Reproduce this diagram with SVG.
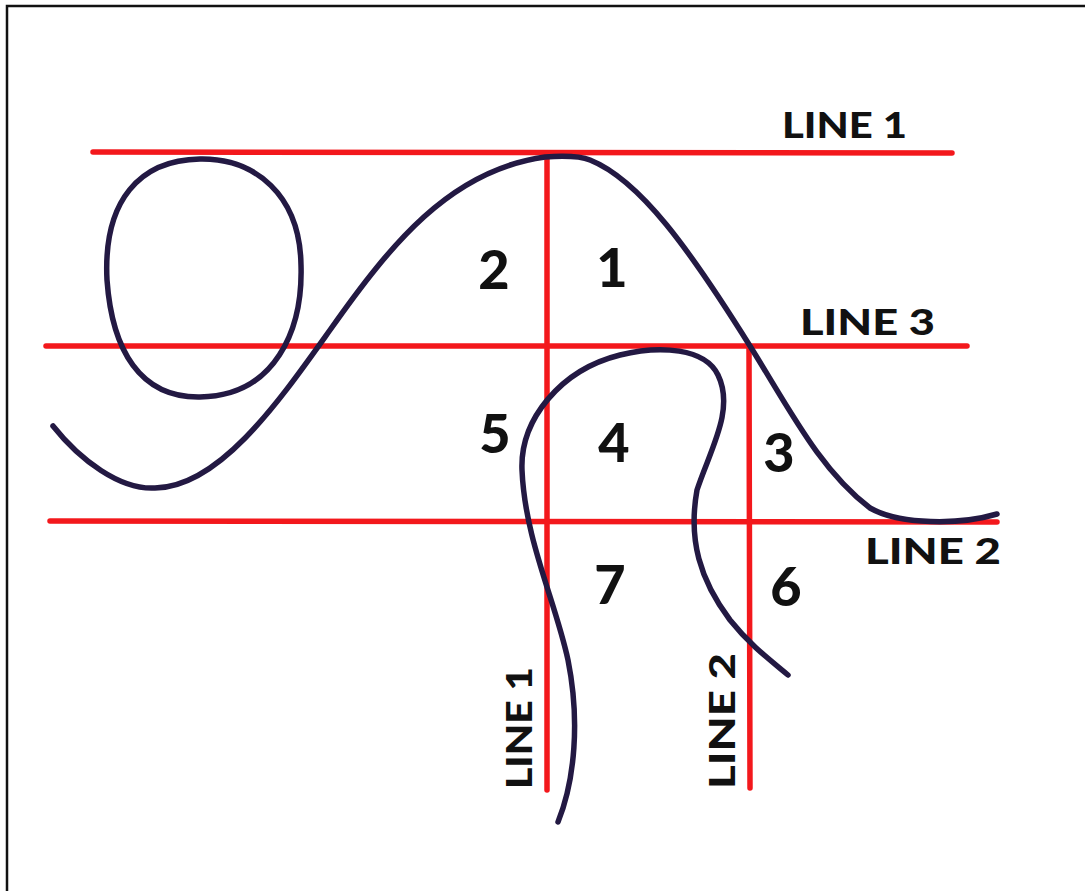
<svg xmlns="http://www.w3.org/2000/svg" width="1085" height="891" viewBox="0 0 1085 891">
<style>
.red{stroke:#f3181c;stroke-width:5.5;stroke-linecap:round;fill:none}
.ink{stroke:#231943;stroke-width:5.5;stroke-linecap:round;stroke-linejoin:round;fill:none}
.lbl{font-family:"Lato","Liberation Sans",sans-serif;font-weight:900;font-size:36px;fill:#111}
.num{font-family:"Lato","Liberation Sans",sans-serif;font-weight:900;font-size:54px;fill:#111;text-anchor:middle}
</style>
<rect width="1085" height="891" fill="#fff"/>
<path d="M7,891 V6 H1085" fill="none" stroke="#111" stroke-width="2.5"/>
<g id="red-lines">
<line id="h-line1" class="red" x1="93" y1="152" x2="952" y2="153"/>
<line id="h-line3" class="red" x1="46" y1="346" x2="967" y2="346"/>
<line id="h-line2" class="red" x1="50" y1="521" x2="997" y2="522"/>
<line id="v-line1" class="red" x1="547" y1="155" x2="547" y2="790"/>
<line id="v-line2" class="red" x1="749" y1="347" x2="750" y2="788"/>
</g>
<g id="curves">
<path id="loop" class="ink" d="M200,159 C255,158 300,195 301,265 C303,330 275,396 200,397 C140,398 112,350 107,280 C103,200 140,160 200,159 Z"/>
<path id="main-curve" class="ink" d="M53,426 C80,460 120,490 155,488 C220,487 280,400 330,330 C390,245 450,170 545,157 C560,156 580,156 590,160 C640,180 690,250 750,346 C790,410 820,470 870,508 C900,525 960,525 997,514"/>
<path id="hook-curve" class="ink" d="M558,822 C575,780 580,720 568,660 C555,600 525,540 522,470 C520,420 560,370 620,355 C660,345 705,348 718,375 C735,410 710,450 697,490 C688,540 700,580 730,620 C750,645 770,660 788,675"/>
</g>
<g id="labels">
<text class="lbl" x="782" y="138" textLength="125" lengthAdjust="spacingAndGlyphs">LINE 1</text>
<text class="lbl" x="800" y="335" textLength="135" lengthAdjust="spacingAndGlyphs">LINE 3</text>
<text class="lbl" x="865" y="564" textLength="136" lengthAdjust="spacingAndGlyphs">LINE 2</text>
<text class="lbl" transform="translate(532,789) rotate(-90)" x="0" y="0" textLength="122" lengthAdjust="spacingAndGlyphs">LINE 1</text>
<text class="lbl" transform="translate(735,789) rotate(-90)" x="0" y="0" textLength="136" lengthAdjust="spacingAndGlyphs">LINE 2</text>
</g>
<g id="numbers">
<text class="num" x="494" y="289">2</text>
<text class="num" x="612" y="287">1</text>
<text class="num" x="495" y="453">5</text>
<text class="num" x="614" y="462">4</text>
<text class="num" x="779" y="472">3</text>
<text class="num" x="610" y="604">7</text>
<text class="num" x="786" y="606">6</text>
</g>
</svg>
